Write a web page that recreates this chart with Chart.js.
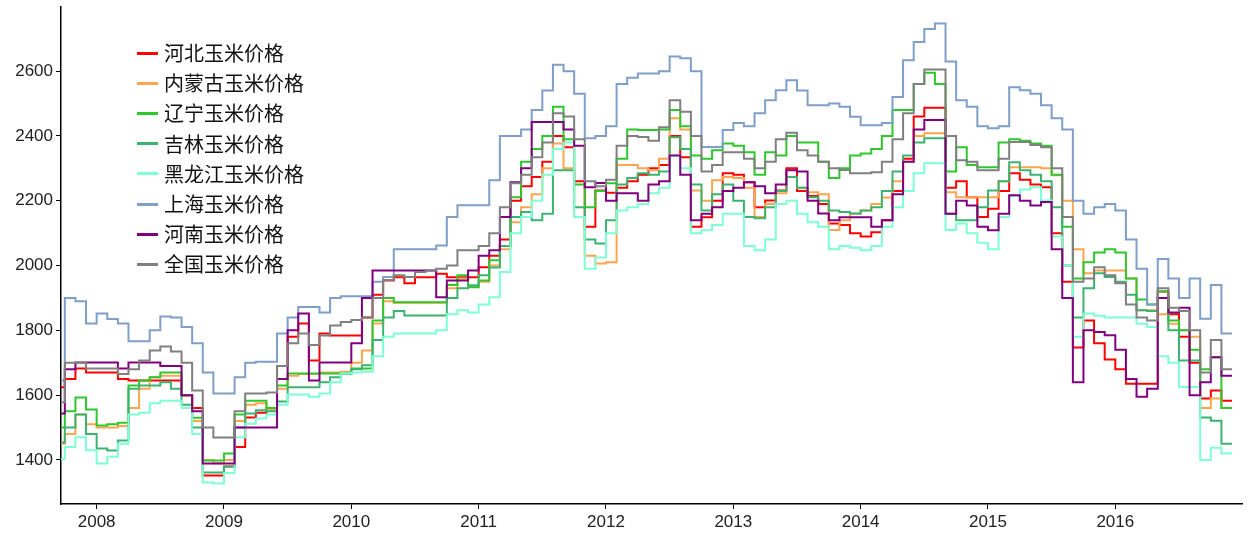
<!DOCTYPE html>
<html>
<head>
<meta charset="utf-8">
<script src="https://cdn.jsdelivr.net/npm/chart.js@4.4.1/dist/chart.umd.min.js"></script>
<style>
  html, body { margin: 0; padding: 0; background: #fff; }
  #wrap { position: relative; width: 1253px; height: 537px; }
  #legend { position: absolute; left: 137px; top: 38px; font-family: "Noto Sans CJK SC", sans-serif; font-size: 20px; color: #111; }
  .item { height: 30.2px; line-height: 30.2px; display: flex; align-items: center; white-space: nowrap; }
  .swatch { width: 21px; height: 3px; margin-right: 6px; }
</style>
</head>
<body>
<div id="wrap">
  <canvas id="chart" width="1253" height="537"></canvas>
  <div id="legend"></div>
</div>
<script>
// monthly samples, Sep 2007 .. Dec 2016
const startYear = 2007, startMonth = 9, monthCount = 112;
const yearTicks = [2008, 2009, 2010, 2011, 2012, 2013, 2014, 2015, 2016];
const priceTicks = [1400, 1600, 1800, 2000, 2200, 2400, 2600];

const seriesNames = ['河北玉米价格', '内蒙古玉米价格', '辽宁玉米价格', '吉林玉米价格', '黑龙江玉米价格', '上海玉米价格', '河南玉米价格', '全国玉米价格'];
const seriesColors = ['#ff0000', '#ffa54f', '#2ec82e', '#3cb371', '#7fffd4', '#7f9fc8', '#800080', '#808080'];

const hebei = [
  1624, 1624, 1650, 1682,
  1670, 1670, 1670, 1650, 1645, 1645, 1645, 1645, 1645, 1600, 1560, 1352,
  1352, 1380, 1440, 1531, 1546, 1560, 1690, 1780, 1821, 1707, 1790, 1784,
  1784, 1784, 1840, 1910, 1954, 1964, 1945, 1964, 1964, 1975, 1964, 1964,
  1964, 1995, 2030, 2080, 2200, 2245, 2273, 2320, 2400, 2365, 2260, 2120,
  2232, 2225, 2240, 2260, 2280, 2300, 2310, 2400, 2334, 2120, 2149, 2200,
  2285, 2280, 2257, 2180, 2201, 2232, 2300, 2230, 2215, 2190, 2130, 2125,
  2100, 2090, 2103, 2140, 2230, 2330, 2460, 2487, 2487, 2240, 2260, 2211,
  2150, 2175, 2230, 2285, 2265, 2250, 2242, 2100, 1950, 1747, 1830, 1760,
  1710, 1680, 1635, 1635, 1635, 1920, 1850, 1780, 1700, 1590, 1614, 1583
];
const neimenggu = [
  1450, 1450, 1480, 1540,
  1510, 1500, 1500, 1505, 1560, 1620, 1655, 1660, 1660, 1600, 1520, 1400,
  1390, 1400, 1520, 1570, 1575, 1555, 1620, 1660, 1665, 1665, 1670, 1670,
  1672, 1700, 1738, 1821, 1890, 1885, 1885, 1885, 1885, 1885, 1930, 1960,
  1935, 1950, 2000, 2050, 2134, 2180, 2220, 2300, 2377, 2300, 2150, 2030,
  2006, 2010, 2310, 2310, 2300, 2294, 2330, 2455, 2420, 2232, 2200, 2263,
  2273, 2270, 2240, 2150, 2190, 2223, 2273, 2240, 2226, 2220, 2110, 2140,
  2160, 2170, 2190, 2210, 2260, 2320, 2400, 2408, 2408, 2226, 2211, 2211,
  2211, 2211, 2260, 2303, 2303, 2303, 2300, 2279, 2200, 2050, 1976, 1985,
  1985, 1985, 1960, 1862, 1862, 1850, 1820, 1800, 1780, 1560, 1590, 1560
];
const liaoning = [
  1500, 1500, 1550, 1593,
  1556, 1506, 1510, 1515, 1630, 1645, 1655, 1670, 1670, 1600, 1530, 1398,
  1398, 1420, 1540, 1583, 1583, 1560, 1630, 1667, 1667, 1667, 1667, 1667,
  1667, 1682, 1682, 1830, 1900, 1887, 1887, 1887, 1887, 1887, 1940, 1970,
  1933, 1954, 2016, 2060, 2211, 2320, 2360, 2400, 2490, 2390, 2250, 2180,
  2230, 2254, 2330, 2420, 2418, 2418, 2420, 2480, 2430, 2340, 2330, 2356,
  2377, 2370, 2350, 2280, 2350, 2340, 2400, 2380, 2380, 2320, 2270, 2300,
  2340, 2346, 2360, 2400, 2480, 2480, 2560, 2595, 2560, 2290, 2365, 2310,
  2303, 2303, 2380, 2390, 2385, 2377, 2370, 2280, 2120, 1960, 2010, 2040,
  2050, 2040, 1960, 1895, 1880, 1920, 1830, 1800, 1740, 1680, 1717, 1560
];
const jilin = [
  1454, 1454, 1500, 1540,
  1480, 1435, 1429, 1460, 1620, 1630, 1630, 1640, 1620, 1570, 1500, 1361,
  1361, 1380, 1500, 1543, 1553, 1550, 1580, 1624, 1624, 1624, 1640, 1655,
  1665, 1680, 1692, 1770, 1840, 1860, 1846, 1846, 1846, 1846, 1900, 1930,
  1939, 1970, 1994, 2060, 2150, 2165, 2140, 2160, 2294, 2294, 2180, 2080,
  2068, 2140, 2250, 2270, 2285, 2280, 2290, 2396, 2360, 2250, 2170, 2220,
  2250, 2200, 2150, 2146, 2180, 2230, 2273, 2240, 2211, 2200, 2170, 2165,
  2161, 2170, 2180, 2230, 2290, 2340, 2380, 2393, 2393, 2160, 2140, 2140,
  2180, 2232, 2260, 2319, 2294, 2280, 2260, 2180, 2000, 1840, 1930, 1976,
  1965, 1950, 1910, 1862, 1860, 1900, 1800, 1707, 1707, 1531, 1521, 1450
];
const heilongjiang = [
  1403, 1403, 1440, 1470,
  1430, 1389, 1410, 1450, 1540, 1546, 1575, 1583, 1583, 1560, 1480, 1330,
  1327, 1360, 1470, 1512, 1528, 1540, 1570, 1602, 1602, 1595, 1605, 1640,
  1667, 1670, 1672, 1720, 1780, 1790, 1790, 1790, 1790, 1800, 1850, 1862,
  1855, 1880, 1902, 1980, 2100, 2150, 2200, 2280, 2360, 2380, 2150, 1990,
  2025, 2100, 2170, 2180, 2190, 2223, 2240, 2340, 2300, 2100, 2109, 2125,
  2160, 2160, 2060, 2047, 2080, 2190, 2200, 2160, 2134, 2120, 2050, 2060,
  2055, 2047, 2060, 2120, 2180, 2230, 2285, 2316, 2316, 2110, 2130, 2100,
  2070, 2050, 2150, 2215, 2235, 2242, 2201, 2090, 2000, 1780, 1852, 1845,
  1840, 1840, 1840, 1820, 1810, 1720, 1700, 1625, 1625, 1400, 1438, 1420
];
const shanghai = [
  1645, 1645, 1900, 1890,
  1821, 1852, 1835, 1821, 1766, 1766, 1800, 1843, 1840, 1810, 1760, 1670,
  1605, 1605, 1655, 1700, 1703, 1703, 1790, 1840, 1872, 1872, 1855, 1900,
  1905, 1905, 1905, 1950, 1965, 2050, 2050, 2050, 2050, 2062, 2150, 2186,
  2186, 2186, 2263, 2400, 2400, 2420, 2480, 2540, 2620, 2600, 2530, 2393,
  2400, 2430, 2560, 2580, 2593, 2593, 2600, 2645, 2640, 2600, 2366, 2366,
  2418, 2440, 2430, 2470, 2510, 2541, 2572, 2540, 2495, 2495, 2500, 2490,
  2459, 2433, 2433, 2440, 2520, 2634, 2690, 2730, 2747, 2630, 2510, 2490,
  2430, 2424, 2430, 2550, 2541, 2530, 2495, 2455, 2420, 2200, 2160, 2180,
  2190, 2170, 2080, 1990, 1880, 2020, 1960, 1900, 1960, 1836, 1940, 1790
];
const henan = [
  1543, 1543, 1680, 1701,
  1701, 1701, 1701, 1682, 1701, 1701, 1701, 1690, 1690, 1600, 1550, 1389,
  1389, 1389, 1500, 1500, 1500, 1500, 1650, 1800, 1852, 1645, 1701, 1701,
  1701, 1760, 1900, 1985, 1985, 1985, 1985, 1985, 1985, 1902, 1954, 1954,
  1985, 2030, 2047, 2150, 2257, 2300, 2443, 2443, 2443, 2420, 2370, 2242,
  2255, 2200, 2223, 2223, 2200, 2250, 2260, 2340, 2280, 2140, 2160, 2180,
  2230, 2240, 2257, 2245, 2223, 2250, 2294, 2290, 2200, 2161, 2140, 2149,
  2149, 2149, 2120, 2140, 2220, 2320, 2420, 2449, 2449, 2160, 2200, 2185,
  2120, 2109, 2160, 2217, 2200, 2185, 2196, 2050, 1900, 1640, 1800, 1795,
  1785, 1740, 1650, 1595, 1620, 1900, 1855, 1870, 1600, 1640, 1717, 1660
];
const quanguo = [
  1578, 1578, 1700, 1700,
  1682, 1682, 1682, 1665, 1680, 1707, 1738, 1750, 1735, 1700, 1614, 1500,
  1469, 1469, 1550, 1605, 1605, 1608, 1690, 1760, 1790, 1755, 1784, 1815,
  1826, 1832, 1840, 1900, 1955, 1970, 1965, 1980, 1985, 1990, 2000, 2047,
  2047, 2060, 2100, 2180, 2254, 2280, 2334, 2380, 2470, 2460, 2390, 2260,
  2245, 2265, 2370, 2400, 2397, 2385, 2427, 2510, 2475, 2400, 2290, 2310,
  2350, 2350, 2330, 2300, 2320, 2390, 2410, 2356, 2340, 2320, 2300, 2295,
  2285, 2285, 2288, 2320, 2390, 2470, 2560, 2605, 2605, 2400, 2325, 2320,
  2294, 2294, 2330, 2381, 2381, 2372, 2365, 2300, 2150, 1950, 1960, 1995,
  1970, 1945, 1880, 1840, 1830, 1930, 1870, 1860, 1800, 1670, 1770, 1680
];

const seriesValues = [hebei, neimenggu, liaoning, jilin, heilongjiang, shanghai, henan, quanguo];

// decimal-year position of each month
const months = [];
for (let i = 0; i < monthCount; i++) {
  const m = startMonth - 1 + i;
  months.push(startYear + Math.floor(m / 12) + (m % 12) / 12);
}

const tickFont = { family: '"Liberation Sans", Arial, sans-serif', size: 17 };
const tickColor = '#222';

const datasets = seriesValues.map((vals, i) => ({
  label: seriesNames[i],
  data: vals.map((v, j) => ({ x: months[j], y: v })),
  borderColor: seriesColors[i],
  backgroundColor: seriesColors[i],
  borderWidth: 2,
  pointRadius: 0,
  stepped: 'after',
  fill: false,
  order: seriesValues.length - 1 - i   // later series on top
}));

new Chart(document.getElementById('chart').getContext('2d'), {
  type: 'line',
  data: { datasets },
  options: {
    responsive: false,
    animation: false,
    layout: { padding: { top: 7, right: 11, left: 0, bottom: 0 } },
    plugins: { legend: { display: false }, tooltip: { enabled: false } },
    scales: {
      x: {
        type: 'linear',
        min: 2007.72,
        max: 2016.995,
        afterBuildTicks: s => { s.ticks = yearTicks.map(v => ({ value: v })); },
        afterFit: s => { s.height = 33; s.paddingLeft = 0; s.paddingRight = 0; },
        grid: { drawOnChartArea: false, tickLength: 5, color: '#000' },
        border: { color: '#000', width: 1.5 },
        ticks: { callback: v => String(v), font: tickFont, color: tickColor, padding: 3, maxRotation: 0, autoSkip: false }
      },
      y: {
        min: 1264,
        max: 2798,
        afterBuildTicks: s => { s.ticks = priceTicks.map(v => ({ value: v })); },
        afterFit: s => { s.width = 61; s.paddingTop = 0; s.paddingBottom = 0; },
        grid: { drawOnChartArea: false, tickLength: 5, color: '#000' },
        border: { color: '#000', width: 1.5 },
        ticks: { callback: v => String(v), font: tickFont, color: tickColor, padding: 3 }
      }
    }
  }
});

// legend inside the plot, top-left
const legend = document.getElementById('legend');
seriesNames.forEach((name, i) => {
  const row = document.createElement('div');
  row.className = 'item';
  row.innerHTML = `<span class="swatch" style="background:${seriesColors[i]}"></span><span>${name}</span>`;
  legend.appendChild(row);
});
</script>
</body>
</html>
